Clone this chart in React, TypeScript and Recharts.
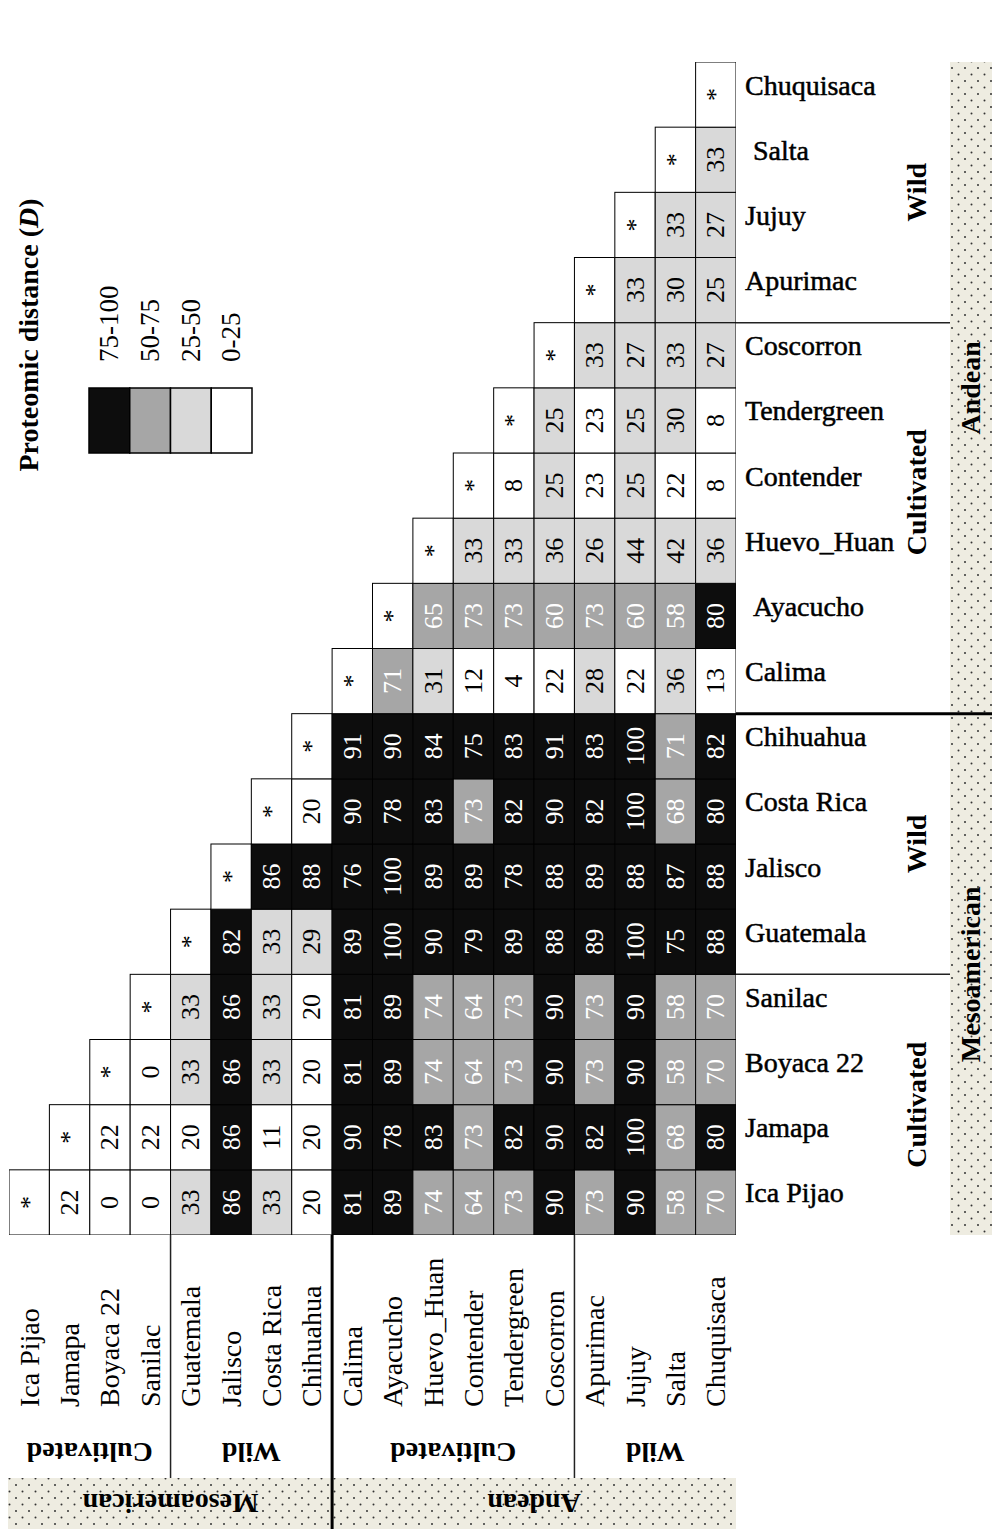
import React from "react";
import { ScatterChart, Scatter, XAxis, YAxis } from "recharts";

// genotypes in matrix order (bottom row / left column first)
const genotypes = [
  "Ica Pijao", "Jamapa", "Boyaca 22", "Sanilac",
  "Guatemala", "Jalisco", "Costa Rica", "Chihuahua",
  "Calima", "Ayacucho", "Huevo_Huan", "Contender", "Tendergreen", "Coscorron",
  "Apurimac", "Jujuy", "Salta", "Chuquisaca",
];

// distance of each genotype to the genotypes listed before it
const icaPijao: number[] = [];
const jamapa = [22];
const boyaca22 = [0, 22];
const sanilac = [0, 22, 0];
const guatemala = [33, 20, 33, 33];
const jalisco = [86, 86, 86, 86, 82];
const costaRica = [33, 11, 33, 33, 33, 86];
const chihuahua = [20, 20, 20, 20, 29, 88, 20];
const calima = [81, 90, 81, 81, 89, 76, 90, 91];
const ayacucho = [89, 78, 89, 89, 100, 100, 78, 90, 71];
const huevoHuan = [74, 83, 74, 74, 90, 89, 83, 84, 31, 65];
const contender = [64, 73, 64, 64, 79, 89, 73, 75, 12, 73, 33];
const tendergreen = [73, 82, 73, 73, 89, 78, 82, 83, 4, 73, 33, 8];
const coscorron = [90, 90, 90, 90, 88, 88, 90, 91, 22, 60, 36, 25, 25];
const apurimac = [73, 82, 73, 73, 89, 89, 82, 83, 28, 73, 26, 23, 23, 33];
const jujuy = [90, 100, 90, 90, 100, 88, 100, 100, 22, 60, 44, 25, 25, 27, 33];
const salta = [58, 68, 58, 58, 75, 87, 68, 71, 36, 58, 42, 22, 30, 33, 30, 33];
const chuquisaca = [70, 80, 70, 70, 88, 88, 80, 82, 13, 80, 36, 8, 8, 27, 25, 27, 33];

const distances = [
  icaPijao, jamapa, boyaca22, sanilac, guatemala, jalisco, costaRica, chihuahua,
  calima, ayacucho, huevoHuan, contender, tendergreen, coscorron,
  apurimac, jujuy, salta, chuquisaca,
];

const legendBins = ["75-100", "50-75", "25-50", "0-25"];
const binColors = ["#0d0d0d", "#a6a6a6", "#d9d9d9", "#ffffff"];

const subgroups = [
  { label: "Cultivated", from: 0, to: 3, shift: 0 },
  { label: "Wild", from: 4, to: 7, shift: 0 },
  { label: "Cultivated", from: 8, to: 13, shift: -26 },
  { label: "Wild", from: 14, to: 17, shift: 0 },
];
const pools = [
  { label: "Mesoamerican", from: 0, to: 7 },
  { label: "Andean", from: 8, to: 17 },
];

type CellDatum = { x: number; y: number; v: number | null };
const cells: CellDatum[] = [];
distances.forEach((row, col) => {
  row.forEach((v, r) => cells.push({ x: col, y: r, v }));
  cells.push({ x: col, y: col, v: null });
});

const W = 992;
const H = 1529;
const PLOT_LEFT = 9;
const PLOT_RIGHT = 736;
const PLOT_TOP = 62;
const PLOT_BOTTOM = 1235;
const BAND_TOP = 1478;
const BAND_LEFT = 950;
const COL_W = (PLOT_RIGHT - PLOT_LEFT) / genotypes.length;
const ROW_H = (PLOT_BOTTOM - PLOT_TOP) / genotypes.length;
const FONT = "'Liberation Serif', 'Times New Roman', serif";
const ticks = genotypes.map((_, i) => i);

const binColor = (v: number) =>
  v >= 75 ? binColors[0] : v >= 50 ? binColors[1] : v >= 25 ? binColors[2] : binColors[3];

const CellShape = (props: any) => {
  const { cx, cy, payload } = props;
  const v: number | null = payload.v;
  const fill = v == null ? "#fff" : binColor(v);
  const dark = v != null && v >= 50;
  return (
    <g>
      <rect x={cx - COL_W / 2} y={cy - ROW_H / 2} width={COL_W} height={ROW_H}
        fill={fill} stroke="#000" strokeWidth={1} />
      <text transform={`translate(${cx},${cy}) rotate(-90)`} textAnchor="middle"
        dominantBaseline="central" fontFamily={FONT} fontSize={26}
        fill={dark ? "#fff" : "#000"}>
        {v == null ? "*" : v}
      </text>
    </g>
  );
};

const BottomTick = (props: any) => {
  const { x, payload } = props;
  return (
    <text transform={`translate(${x},1407) rotate(-90)`} textAnchor="start"
      dominantBaseline="central" fontFamily={FONT} fontSize={28} fill="#000">
      {genotypes[payload.value]}
    </text>
  );
};

const indented = ["Salta", "Ayacucho"];
const RightTick = (props: any) => {
  const { y, payload } = props;
  const name = genotypes[payload.value];
  return (
    <text x={PLOT_RIGHT + 9 + (indented.includes(name) ? 8 : 0)} y={y}
      fontFamily={FONT} fontSize={28} fill="#000" stroke="#000" strokeWidth={0.5}>
      {name}
    </text>
  );
};

const colMid = (g: { from: number; to: number }) => PLOT_LEFT + ((g.from + g.to + 1) / 2) * COL_W;
const rowMid = (g: { from: number; to: number }) => PLOT_BOTTOM - ((g.from + g.to + 1) / 2) * ROW_H;

const Decorations = () => (
  <svg width={W} height={H} style={{ position: "absolute", left: 0, top: 0, pointerEvents: "none" }}>
    <defs>
      <pattern id="dots" width="13" height="13" patternUnits="userSpaceOnUse">
        <rect width="13" height="13" fill="#eeece1" />
        <circle cx="3" cy="3" r="1" fill="#333" />
        <circle cx="9.5" cy="9.5" r="1" fill="#333" />
      </pattern>
    </defs>

    {/* pool bands */}
    <rect x={8} y={BAND_TOP} width={PLOT_RIGHT - 8} height={H - BAND_TOP} fill="url(#dots)" />
    <rect x={BAND_LEFT} y={PLOT_TOP} width={W - BAND_LEFT} height={PLOT_BOTTOM - PLOT_TOP} fill="url(#dots)" />

    {/* group separators */}
    {[4, 14].map((c) => (
      <line key={`v${c}`} x1={PLOT_LEFT + c * COL_W} x2={PLOT_LEFT + c * COL_W}
        y1={PLOT_BOTTOM} y2={BAND_TOP} stroke="#222" strokeWidth={1.5} />
    ))}
    <line x1={PLOT_LEFT + 8 * COL_W} x2={PLOT_LEFT + 8 * COL_W} y1={PLOT_BOTTOM} y2={H}
      stroke="#000" strokeWidth={3} />
    {[4, 14].map((r) => (
      <line key={`h${r}`} x1={PLOT_RIGHT} x2={BAND_LEFT}
        y1={PLOT_BOTTOM - r * ROW_H} y2={PLOT_BOTTOM - r * ROW_H} stroke="#222" strokeWidth={1.5} />
    ))}
    <line x1={PLOT_RIGHT} x2={W} y1={PLOT_BOTTOM - 8 * ROW_H} y2={PLOT_BOTTOM - 8 * ROW_H}
      stroke="#000" strokeWidth={3} />

    {/* subgroup and pool labels */}
    {subgroups.map((g, i) => (
      <g key={`s${i}`} fontFamily={FONT} fontWeight="bold" fontSize={28} fill="#000">
        <text transform={`translate(${colMid(g)},1452) rotate(180)`} textAnchor="middle"
          dominantBaseline="central">{g.label}</text>
        <text transform={`translate(916,${rowMid(g) + g.shift}) rotate(-90)`} textAnchor="middle"
          dominantBaseline="central">{g.label}</text>
      </g>
    ))}
    {pools.map((g, i) => (
      <g key={`p${i}`} fontFamily={FONT} fontWeight="bold" fontSize={28} fill="#000">
        <text transform={`translate(${colMid(g)},1503) rotate(180)`} textAnchor="middle"
          dominantBaseline="central">{g.label}</text>
        <text transform={`translate(970,${rowMid(g)}) rotate(-90)`} textAnchor="middle"
          dominantBaseline="central">{g.label}</text>
      </g>
    ))}

    {/* legend */}
    <text transform="translate(28,335) rotate(-90)" textAnchor="middle" dominantBaseline="central"
      fontFamily={FONT} fontWeight="bold" fontSize={28} fill="#000">
      Proteomic distance (<tspan fontStyle="italic">D</tspan>)
    </text>
    {legendBins.map((label, i) => (
      <g key={label}>
        <rect x={89 + i * 40.75} y={388} width={40.75} height={65} fill={binColors[i]}
          stroke="#000" strokeWidth={1.5} />
        <text transform={`translate(${109 + i * 40.75},362) rotate(-90)`} textAnchor="start"
          dominantBaseline="central" fontFamily={FONT} fontSize={27} fill="#000">
          {label}
        </text>
      </g>
    ))}
  </svg>
);

export default function App() {
  return (
    <div style={{ position: "absolute", left: 0, top: 0, width: W, height: H, background: "#fff" }}>
      <ScatterChart width={W} height={H}
        margin={{ top: PLOT_TOP, right: W - BAND_LEFT, bottom: H - BAND_TOP, left: PLOT_LEFT }}>
        <XAxis type="number" dataKey="x" domain={[-0.5, genotypes.length - 0.5]} ticks={ticks}
          interval={0} allowDataOverflow height={BAND_TOP - PLOT_BOTTOM}
          axisLine={false} tickLine={false} tick={BottomTick} />
        <YAxis type="number" dataKey="y" domain={[-0.5, genotypes.length - 0.5]} ticks={ticks}
          interval={0} allowDataOverflow orientation="right" width={BAND_LEFT - PLOT_RIGHT}
          axisLine={false} tickLine={false} tick={RightTick} />
        <Scatter data={cells} shape={CellShape} isAnimationActive={false} />
      </ScatterChart>
      <Decorations />
    </div>
  );
}
